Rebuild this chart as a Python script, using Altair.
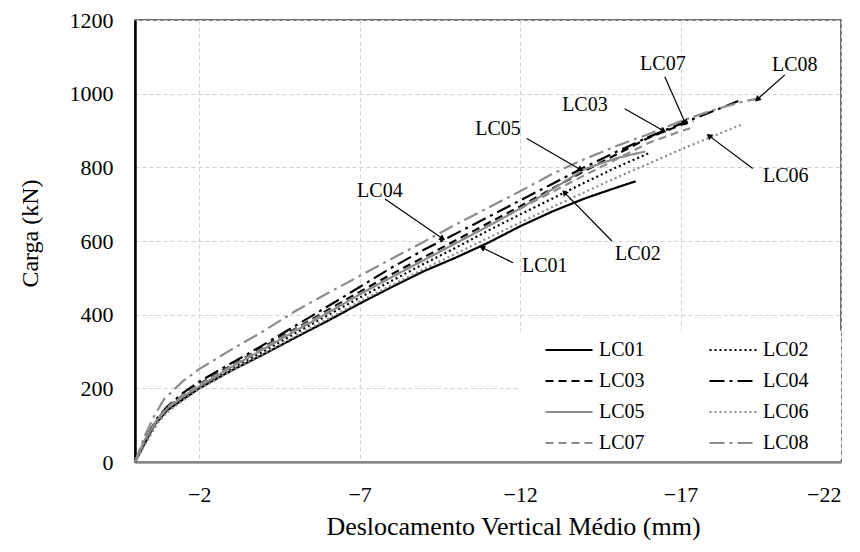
import math
import altair as alt
import pandas as pd

# ---------------- data ----------------
series = ["LC01", "LC02", "LC03", "LC04", "LC05", "LC06", "LC07", "LC08"]
# legend is filled column by column: this order gives rows LC01|LC02, LC03|LC04, ...
legend_order = ["LC01", "LC03", "LC05", "LC07", "LC02", "LC04", "LC06", "LC08"]

LC01_d = [0, -0.3, -0.6, -1.0, -1.5, -2, -3, -4, -5, -6, -7, -8, -9, -10, -11, -12, -13, -14, -15, -15.6]
LC01_load = [0, 50, 100, 140, 170, 200, 248, 292, 338, 383, 430, 475, 518, 555, 595, 640, 680, 715, 745, 762]

LC02_d = [0, -0.3, -0.7, -1, -1.5, -2, -3, -4, -5, -6, -7, -8, -9, -10, -11, -12, -13, -14, -15, -16]
LC02_load = [0, 50, 110, 140, 172, 202, 252, 300, 350, 398, 446, 492, 538, 582, 628, 672, 715, 758, 800, 838]

LC03_d = [0, -0.3, -0.7, -1, -1.5, -2, -3, -4, -5, -6, -7, -8, -9, -10, -11, -12, -13, -14, -15, -16, -17, -17.4]
LC03_load = [0, 55, 115, 148, 182, 212, 262, 312, 362, 412, 462, 510, 556, 602, 648, 694, 742, 790, 835, 880, 915, 925]

LC04_d = [0, -0.3, -0.7, -1, -1.5, -2, -3, -4, -5, -6, -7, -8, -9, -10, -11, -12, -13, -14, -15, -16, -17, -18, -18.8]
LC04_load = [0, 60, 120, 150, 188, 218, 268, 318, 370, 422, 475, 528, 576, 620, 665, 710, 755, 800, 842, 882, 918, 952, 980]

LC05_d = [0, -0.3, -0.7, -1, -1.5, -2, -3, -4, -5, -6, -7, -8, -9, -10, -11, -12, -13, -14, -15, -15.9]
LC05_load = [0, 60, 115, 145, 178, 205, 258, 306, 356, 404, 455, 502, 548, 594, 640, 688, 740, 795, 825, 843]

LC06_d = [0, -0.3, -0.7, -1, -1.5, -2, -3, -4, -5, -6, -7, -8, -9, -10, -11, -12, -13, -14, -15, -16, -17, -18, -18.9]
LC06_load = [0, 45, 105, 135, 168, 198, 248, 294, 342, 388, 436, 480, 524, 566, 608, 650, 692, 732, 772, 810, 848, 884, 916]

LC07_d = [0, -0.3, -0.7, -1, -1.5, -2, -3, -4, -5, -6, -7, -8, -9, -10, -11, -12, -13, -14, -15, -16, -17, -17.3]
LC07_load = [0, 58, 118, 148, 182, 210, 260, 310, 360, 408, 456, 503, 550, 596, 642, 688, 733, 778, 822, 866, 898, 906]

LC08_d = [0, -0.3, -0.6, -0.9, -1.5, -2, -3, -4, -5, -6, -7, -8, -9, -10, -11, -12, -13, -14, -15, -16, -17, -18, -19, -19.5]
LC08_load = [0, 70, 125, 170, 220, 252, 305, 355, 410, 458, 505, 552, 598, 645, 690, 735, 782, 822, 858, 890, 925, 955, 980, 988]

x_ticks = [-2, -7, -12, -17, -22]
y_ticks = [0, 200, 400, 600, 800, 1000, 1200]

# annotations (data units)
ann_label = ["LC08", "LC07", "LC03", "LC05", "LC06", "LC04", "LC02", "LC01"]
ann_text_d = [-20.56, -16.45, -14.02, -11.31, -20.28, -7.63, -15.67, -12.77]
ann_text_load = [1078, 1081, 970, 905, 776, 735, 565, 532]
ann_from_d = [-20.25, -16.51, -15.26, -12.21, -19.25, -7.79, -14.86, -11.78]
ann_from_load = [1051, 1046, 959, 878, 797, 714, 600, 541]
ann_to_d = [-19.41, -17.13, -16.45, -13.86, -17.91, -9.56, -13.40, -10.84]
ann_to_load = [986, 924, 900, 795, 884, 608, 730, 581]

# white background behind the legend (data units)
legend_bg_d = [-12.0, -22]
legend_bg_load = [4, 356]

colors = ["#000000", "#000000", "#000000", "#000000", "#8c8c8c", "#8c8c8c", "#8c8c8c", "#8c8c8c"]
dashes = [[1, 0], [2, 3], [8, 5], [15, 5, 3, 5], [1, 0], [2, 3], [8, 5], [15, 5, 3, 5]]

# ---------------- build tables ----------------
W, H = 706, 442
XMIN, XMAX = 0, -22
YMAX = 1200
FONT = "Liberation Serif"

all_d = [LC01_d, LC02_d, LC03_d, LC04_d, LC05_d, LC06_d, LC07_d, LC08_d]
all_l = [LC01_load, LC02_load, LC03_load, LC04_load, LC05_load, LC06_load, LC07_load, LC08_load]
rows = []
for s, ds, ls in zip(series, all_d, all_l):
    for i, (d, l) in enumerate(zip(ds, ls)):
        rows.append({"serie": s, "d": d, "load": l, "i": i})
df = pd.DataFrame(rows)

style = {s: (c, dsh) for s, c, dsh in zip(series, colors, dashes)}
leg_colors = [style[s][0] for s in legend_order]
leg_dashes = [style[s][1] for s in legend_order]

px_x = W / abs(XMAX - XMIN)
px_y = H / YMAX
ang = []
for fd, fl, td, tl in zip(ann_from_d, ann_from_load, ann_to_d, ann_to_load):
    dx = (fd - td) * px_x  # x pixels grow as d decreases
    dy = -(tl - fl) * px_y
    ang.append(math.degrees(math.atan2(dx, -dy)) % 360)
ann = pd.DataFrame({
    "label": ann_label, "td": ann_text_d, "tl": ann_text_load,
    "fd": ann_from_d, "fl": ann_from_load, "ed": ann_to_d, "el": ann_to_load, "ang": ang,
})
bg = pd.DataFrame({"d1": [legend_bg_d[0]], "d2": [legend_bg_d[1]],
                   "l1": [legend_bg_load[0]], "l2": [legend_bg_load[1]]})

xscale = alt.Scale(domain=[XMIN, XMAX], nice=False, zero=False)
yscale = alt.Scale(domain=[0, YMAX], nice=False, zero=False)

lines = alt.Chart(df).mark_line(strokeWidth=2.2).encode(
    x=alt.X("d:Q", scale=xscale,
            axis=alt.Axis(values=x_ticks, title="Deslocamento Vertical Médio (mm)",
                          grid=True, gridDash=[4, 3], gridColor="#d0d0d0",
                          ticks=False, domainColor="#8c8c8c", domainWidth=2.5,
                          labelPadding=22, labelFontSize=22, labelFont=FONT, labelColor="black",
                          titleFont=FONT, titleFontSize=26, titleFontWeight="normal",
                          titleColor="black", titleX=378, titleY=64, titleBaseline="middle")),
    y=alt.Y("load:Q", scale=yscale,
            axis=alt.Axis(values=y_ticks, title="Carga (kN)", format="d",
                          grid=True, gridDash=[4, 3], gridColor="#d0d0d0",
                          ticks=False, domainColor="black", domainWidth=2.5,
                          labelPadding=22, labelFontSize=22, labelFont=FONT, labelColor="black",
                          titleFont=FONT, titleFontSize=24, titleFontWeight="normal",
                          titleColor="black", titleX=-105, titleY=213,
                          titleAngle=270, titleBaseline="middle", titleAlign="center")),
    color=alt.Color("serie:N", scale=alt.Scale(domain=legend_order, range=leg_colors), title=None),
    strokeDash=alt.StrokeDash("serie:N", scale=alt.Scale(domain=legend_order, range=leg_dashes), title=None),
    order="i:Q",
)

legend_bg = alt.Chart(bg).mark_rect(color="white").encode(
    x="d1:Q", x2="d2:Q", y="l1:Q", y2="l2:Q",
)

shafts = alt.Chart(ann).mark_rule(color="black", strokeWidth=1.2).encode(
    x="fd:Q", y="fl:Q", x2="ed:Q", y2="el:Q",
)
heads = alt.Chart(ann).mark_point(shape="triangle", filled=True, color="black",
                                  size=45, opacity=1).encode(
    x="ed:Q", y="el:Q", angle=alt.Angle("ang:Q", scale=None),
)
texts = alt.Chart(ann).mark_text(font=FONT, fontSize=20, color="black",
                                 align="center", baseline="middle").encode(
    x="td:Q", y="tl:Q", text="label:N",
)

chart = alt.layer(legend_bg, lines, shafts, heads, texts).properties(
    width=W, height=H,
    padding={"left": 127, "top": 12, "right": 5, "bottom": 78},
    autosize=alt.AutoSizeParams(type="none"),
).configure_view(
    stroke="#404040", strokeWidth=1.5,
).configure_legend(
    orient="none", legendX=409, legendY=320, columns=2,
    padding=0, symbolType="stroke", symbolSize=2209, clipHeight=20,
    symbolStrokeWidth=2.2, labelFont=FONT, labelFontSize=20, labelColor="black",
    rowPadding=11, columnPadding=63, labelOffset=5, symbolLimit=0,
)

chart.save("out.html", embed_options={"renderer": "svg", "actions": False})
